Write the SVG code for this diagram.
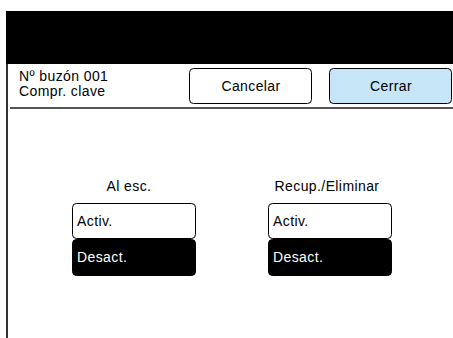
<svg xmlns="http://www.w3.org/2000/svg" width="453" height="338" viewBox="0 0 453 338">
<style>
text{font-family:"Liberation Sans",Arial,sans-serif;font-size:14px;letter-spacing:0.4px;fill:#000}
.btn{fill:#fff;stroke:#000;stroke-width:1}
.sel{fill:#000;stroke:#000;stroke-width:1}
.w{fill:#fff}
</style>
<rect x="0" y="0" width="453" height="338" fill="#fff"/>
<g id="header">
<rect x="6" y="11" width="447" height="53" fill="#000"/>
<line x1="7" y1="64" x2="7" y2="338" stroke="#333" stroke-width="2"/>
<line x1="10" y1="108" x2="453" y2="108" stroke="#555" stroke-width="2"/>
<text x="19" y="81">Nº buzón 001</text>
<text x="19" y="96">Compr. clave</text>
</g>
<g id="cancelar">
<rect class="btn" x="189.5" y="68.5" width="122" height="35" rx="4"/>
<text x="251" y="91" text-anchor="middle">Cancelar</text>
</g>
<g id="cerrar">
<rect x="329.5" y="68.5" width="122" height="35" rx="4" fill="#c6e6f8" stroke="#000"/>
<text x="391" y="91" text-anchor="middle">Cerrar</text>
</g>
<g id="al-esc">
<text x="129" y="191" text-anchor="middle">Al esc.</text>
<rect class="btn" x="72.5" y="203.5" width="123" height="35" rx="4"/>
<text x="77" y="226">Activ.</text>
<rect class="sel" x="72.5" y="239.5" width="123" height="36" rx="4"/>
<text class="w" x="77" y="262">Desact.</text>
</g>
<g id="recup">
<text x="327" y="191" text-anchor="middle">Recup./Eliminar</text>
<rect class="btn" x="268.5" y="203.5" width="123" height="35" rx="4"/>
<text x="273" y="226">Activ.</text>
<rect class="sel" x="268.5" y="239.5" width="123" height="36" rx="4"/>
<text class="w" x="273" y="262">Desact.</text>
</g>
<g id="connectors"></g>
</svg>
